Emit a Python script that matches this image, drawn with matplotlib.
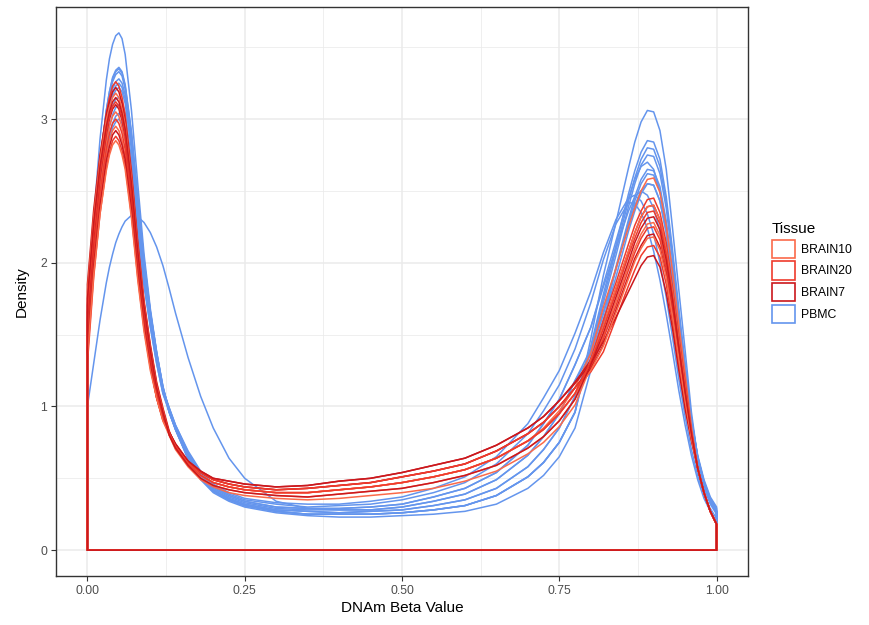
import matplotlib
matplotlib.use('Agg')
import matplotlib.pyplot as plt
from matplotlib.patches import Patch

# -------------------------------
# Data
# -------------------------------
beta = [0.00, 0.01, 0.02, 0.03, 0.035, 0.04, 0.045, 0.05, 0.055, 0.06, 0.07, 0.08, 0.09,
        0.10, 0.11, 0.12, 0.13, 0.14, 0.16, 0.18, 0.20, 0.225, 0.25, 0.30, 0.35, 0.40,
        0.45, 0.50, 0.55, 0.60, 0.65, 0.70, 0.725, 0.75, 0.775, 0.80, 0.82, 0.84, 0.86,
        0.87, 0.88, 0.89, 0.90, 0.91, 0.92, 0.93, 0.94, 0.95, 0.96, 0.97, 0.98, 0.99, 1.00]

pbmc = [
    [1.55, 2.31, 2.86, 3.27, 3.42, 3.52, 3.58, 3.60, 3.56, 3.45, 3.06, 2.55, 2.06, 1.68, 1.38, 1.13,
     0.96, 0.84, 0.64, 0.50, 0.41, 0.35, 0.31, 0.27, 0.25, 0.25, 0.25, 0.26, 0.28, 0.31, 0.38, 0.51, 0.61, 0.75, 0.96,
     1.42, 1.78, 2.12, 2.48, 2.64, 2.77, 2.85, 2.84, 2.72, 2.46, 2.09, 1.68, 1.30, 0.92, 0.64, 0.47, 0.35, 0.27],
    [1.50, 2.19, 2.69, 3.06, 3.19, 3.29, 3.34, 3.36, 3.33, 3.24, 2.91, 2.45, 2.02, 1.66, 1.38, 1.14,
     0.96, 0.84, 0.64, 0.50, 0.41, 0.35, 0.31, 0.27, 0.25, 0.25, 0.25, 0.26, 0.28, 0.31, 0.38, 0.51, 0.61, 0.75, 0.96,
     1.47, 1.91, 2.28, 2.66, 2.84, 2.98, 3.06, 3.05, 2.92, 2.65, 2.24, 1.81, 1.39, 0.96, 0.64, 0.47, 0.35, 0.28],
    [1.60, 2.24, 2.71, 3.05, 3.17, 3.26, 3.31, 3.33, 3.30, 3.21, 2.88, 2.43, 2.00, 1.65, 1.37, 1.13,
     0.98, 0.86, 0.67, 0.53, 0.44, 0.38, 0.34, 0.30, 0.29, 0.29, 0.30, 0.32, 0.37, 0.43, 0.54, 0.73, 0.88, 1.05, 1.29,
     1.55, 1.85, 2.15, 2.45, 2.58, 2.67, 2.70, 2.65, 2.50, 2.24, 1.90, 1.52, 1.16, 0.86, 0.62, 0.45, 0.33, 0.26],
    [1.45, 2.13, 2.62, 2.99, 3.12, 3.21, 3.26, 3.28, 3.25, 3.17, 2.84, 2.39, 1.97, 1.62, 1.34, 1.12,
     0.97, 0.85, 0.65, 0.51, 0.42, 0.36, 0.32, 0.28, 0.27, 0.26, 0.27, 0.28, 0.31, 0.35, 0.43, 0.58, 0.70, 0.85, 1.07,
     1.34, 1.60, 1.90, 2.22, 2.36, 2.48, 2.55, 2.54, 2.43, 2.21, 1.87, 1.51, 1.16, 0.87, 0.64, 0.47, 0.35, 0.27],
    [1.70, 2.26, 2.67, 2.98, 3.08, 3.16, 3.20, 3.22, 3.19, 3.11, 2.79, 2.35, 1.93, 1.60, 1.34, 1.12,
     0.99, 0.87, 0.69, 0.55, 0.46, 0.40, 0.36, 0.33, 0.32, 0.32, 0.34, 0.37, 0.43, 0.51, 0.65, 0.88, 1.06, 1.25, 1.51,
     1.80, 2.07, 2.30, 2.45, 2.47, 2.43, 2.34, 2.20, 2.00, 1.76, 1.48, 1.19, 0.93, 0.70, 0.52, 0.38, 0.29, 0.22],
    [1.40, 2.03, 2.49, 2.83, 2.95, 3.03, 3.08, 3.10, 3.07, 2.99, 2.68, 2.26, 1.86, 1.58, 1.32, 1.11,
     0.98, 0.86, 0.66, 0.52, 0.43, 0.37, 0.33, 0.29, 0.28, 0.28, 0.28, 0.30, 0.34, 0.39, 0.49, 0.66, 0.79, 0.95, 1.18,
     1.36, 1.64, 1.95, 2.28, 2.43, 2.55, 2.62, 2.61, 2.50, 2.27, 1.92, 1.55, 1.19, 0.89, 0.64, 0.47, 0.35, 0.27],
    [1.35, 1.98, 2.43, 2.77, 2.89, 2.97, 3.02, 3.04, 3.01, 2.93, 2.63, 2.22, 1.86, 1.56, 1.30, 1.09,
     0.96, 0.84, 0.64, 0.50, 0.41, 0.35, 0.31, 0.27, 0.25, 0.25, 0.25, 0.26, 0.28, 0.31, 0.38, 0.51, 0.61, 0.75, 0.96,
     1.40, 1.75, 2.09, 2.43, 2.59, 2.72, 2.80, 2.79, 2.67, 2.42, 2.05, 1.65, 1.28, 0.92, 0.65, 0.48, 0.36, 0.29],
    [1.65, 2.21, 2.61, 2.91, 3.02, 3.09, 3.14, 3.15, 3.12, 3.04, 2.72, 2.30, 1.89, 1.59, 1.33, 1.11,
     0.99, 0.87, 0.68, 0.54, 0.45, 0.39, 0.35, 0.32, 0.30, 0.31, 0.32, 0.35, 0.40, 0.47, 0.60, 0.81, 0.97, 1.15, 1.40,
     1.72, 2.02, 2.27, 2.42, 2.41, 2.35, 2.24, 2.08, 1.88, 1.64, 1.38, 1.11, 0.87, 0.66, 0.49, 0.36, 0.27, 0.20],
    [1.50, 2.15, 2.62, 2.97, 3.09, 3.18, 3.23, 3.25, 3.22, 3.14, 2.81, 2.37, 1.95, 1.61, 1.33, 1.11,
     0.96, 0.84, 0.63, 0.49, 0.40, 0.34, 0.30, 0.26, 0.24, 0.23, 0.23, 0.24, 0.25, 0.27, 0.32, 0.43, 0.52, 0.65, 0.85,
     1.25, 1.58, 1.97, 2.30, 2.46, 2.58, 2.65, 2.64, 2.53, 2.29, 1.94, 1.57, 1.21, 0.89, 0.66, 0.49, 0.37, 0.30],
    [1.00, 1.30, 1.60, 1.86, 1.97, 2.06, 2.14, 2.20, 2.25, 2.29, 2.33, 2.32, 2.28, 2.21, 2.11, 1.98,
     1.82, 1.65, 1.34, 1.07, 0.85, 0.64, 0.50, 0.34, 0.29, 0.28, 0.28, 0.30, 0.34, 0.39, 0.49, 0.66, 0.79, 0.95, 1.18,
     1.40, 1.66, 1.96, 2.26, 2.40, 2.50, 2.55, 2.54, 2.43, 2.21, 1.87, 1.51, 1.16, 0.87, 0.64, 0.47, 0.35, 0.27],
    [1.55, 2.22, 2.70, 3.06, 3.19, 3.28, 3.33, 3.35, 3.32, 3.23, 2.90, 2.45, 2.01, 1.66, 1.37, 1.14,
     0.97, 0.85, 0.65, 0.51, 0.42, 0.36, 0.32, 0.28, 0.27, 0.26, 0.27, 0.28, 0.31, 0.35, 0.43, 0.58, 0.70, 0.85, 1.07,
     1.39, 1.72, 2.05, 2.39, 2.55, 2.68, 2.75, 2.74, 2.62, 2.38, 2.02, 1.62, 1.25, 0.91, 0.65, 0.47, 0.35, 0.27],
    [1.45, 2.02, 2.44, 2.75, 2.86, 2.94, 2.98, 3.00, 2.97, 2.90, 2.60, 2.19, 1.84, 1.55, 1.30, 1.09,
     0.98, 0.86, 0.67, 0.53, 0.44, 0.38, 0.34, 0.30, 0.29, 0.29, 0.30, 0.32, 0.37, 0.43, 0.54, 0.73, 0.88, 1.05, 1.29,
     1.55, 1.83, 2.10, 2.36, 2.46, 2.50, 2.47, 2.38, 2.22, 1.99, 1.70, 1.38, 1.07, 0.80, 0.59, 0.43, 0.32, 0.25],
]

brain10 = [
    [1.55, 2.12, 2.54, 2.84, 2.95, 3.02, 3.05, 3.02, 2.94, 2.84, 2.47, 2.01, 1.63, 1.34, 1.10, 0.93,
     0.81, 0.72, 0.60, 0.52, 0.47, 0.44, 0.42, 0.40, 0.40, 0.42, 0.44, 0.47, 0.51, 0.56, 0.64, 0.76, 0.85, 0.97, 1.13,
     1.37, 1.69, 1.96, 2.25, 2.38, 2.50, 2.58, 2.59, 2.49, 2.26, 1.94, 1.57, 1.23, 0.86, 0.57, 0.40, 0.27, 0.18],
    [1.45, 2.02, 2.44, 2.74, 2.85, 2.92, 2.95, 2.92, 2.85, 2.74, 2.39, 1.95, 1.58, 1.30, 1.06, 0.90,
     0.80, 0.70, 0.58, 0.49, 0.44, 0.40, 0.38, 0.36, 0.35, 0.36, 0.38, 0.40, 0.43, 0.48, 0.55, 0.67, 0.75, 0.86, 1.01,
     1.28, 1.49, 1.73, 1.98, 2.10, 2.20, 2.27, 2.28, 2.19, 1.99, 1.71, 1.39, 1.08, 0.80, 0.57, 0.40, 0.27, 0.18],
    [1.80, 2.32, 2.71, 2.99, 3.08, 3.15, 3.18, 3.15, 3.07, 2.96, 2.58, 2.10, 1.70, 1.40, 1.14, 0.97,
     0.80, 0.71, 0.59, 0.50, 0.45, 0.42, 0.40, 0.38, 0.37, 0.39, 0.41, 0.43, 0.47, 0.52, 0.59, 0.71, 0.79, 0.90, 1.05,
     1.32, 1.56, 1.82, 2.08, 2.21, 2.32, 2.39, 2.40, 2.30, 2.09, 1.80, 1.46, 1.14, 0.82, 0.57, 0.40, 0.27, 0.18],
    [1.35, 1.92, 2.34, 2.64, 2.75, 2.82, 2.85, 2.82, 2.75, 2.65, 2.31, 1.88, 1.52, 1.25, 1.06, 0.90,
     0.81, 0.72, 0.60, 0.52, 0.47, 0.44, 0.42, 0.40, 0.40, 0.42, 0.44, 0.47, 0.51, 0.56, 0.64, 0.76, 0.84, 0.95, 1.09,
     1.25, 1.42, 1.65, 1.89, 2.01, 2.10, 2.17, 2.18, 2.09, 1.90, 1.63, 1.33, 1.04, 0.78, 0.57, 0.40, 0.27, 0.18],
]

brain20 = [
    [1.70, 2.29, 2.73, 3.04, 3.15, 3.23, 3.26, 3.23, 3.15, 3.03, 2.64, 2.15, 1.74, 1.43, 1.17, 0.99,
     0.83, 0.72, 0.60, 0.52, 0.47, 0.44, 0.42, 0.40, 0.40, 0.42, 0.44, 0.47, 0.51, 0.56, 0.64, 0.76, 0.84, 0.95, 1.09,
     1.33, 1.60, 1.86, 2.13, 2.26, 2.36, 2.44, 2.45, 2.35, 2.14, 1.83, 1.49, 1.17, 0.83, 0.57, 0.40, 0.27, 0.18],
    [1.50, 2.07, 2.49, 2.79, 2.90, 2.97, 3.00, 2.97, 2.90, 2.79, 2.43, 1.98, 1.61, 1.32, 1.08, 0.92,
     0.82, 0.73, 0.61, 0.54, 0.49, 0.46, 0.44, 0.42, 0.43, 0.45, 0.47, 0.51, 0.55, 0.60, 0.69, 0.81, 0.89, 1.00, 1.13,
     1.27, 1.47, 1.70, 1.95, 2.07, 2.17, 2.24, 2.25, 2.16, 1.96, 1.69, 1.37, 1.07, 0.80, 0.57, 0.40, 0.27, 0.18],
    [1.30, 1.90, 2.34, 2.66, 2.77, 2.85, 2.88, 2.85, 2.78, 2.68, 2.33, 1.90, 1.54, 1.27, 1.06, 0.91,
     0.82, 0.73, 0.61, 0.54, 0.49, 0.46, 0.44, 0.42, 0.43, 0.45, 0.47, 0.51, 0.55, 0.60, 0.69, 0.81, 0.89, 1.00, 1.13,
     1.24, 1.38, 1.61, 1.84, 1.95, 2.05, 2.11, 2.12, 2.04, 1.85, 1.59, 1.29, 1.01, 0.77, 0.57, 0.40, 0.27, 0.18],
    [1.65, 2.21, 2.62, 2.91, 3.02, 3.09, 3.12, 3.09, 3.01, 2.90, 2.53, 2.06, 1.67, 1.37, 1.12, 0.95,
     0.81, 0.72, 0.60, 0.52, 0.47, 0.44, 0.42, 0.40, 0.40, 0.42, 0.44, 0.47, 0.51, 0.56, 0.64, 0.76, 0.84, 0.95, 1.09,
     1.31, 1.54, 1.79, 2.05, 2.17, 2.28, 2.35, 2.36, 2.27, 2.06, 1.77, 1.43, 1.12, 0.82, 0.57, 0.40, 0.27, 0.18],
]

brain7 = [
    [1.85, 2.37, 2.75, 3.03, 3.12, 3.19, 3.22, 3.19, 3.11, 2.99, 2.61, 2.13, 1.72, 1.42, 1.16, 0.98,
     0.82, 0.74, 0.62, 0.55, 0.50, 0.48, 0.46, 0.44, 0.45, 0.48, 0.50, 0.54, 0.59, 0.64, 0.73, 0.85, 0.93, 1.04, 1.17,
     1.32, 1.56, 1.82, 2.08, 2.21, 2.32, 2.39, 2.40, 2.30, 2.09, 1.80, 1.46, 1.14, 0.82, 0.57, 0.40, 0.27, 0.18],
    [1.60, 2.17, 2.59, 2.89, 3.00, 3.07, 3.10, 3.07, 2.99, 2.88, 2.51, 2.05, 1.66, 1.36, 1.12, 0.95,
     0.82, 0.73, 0.61, 0.54, 0.49, 0.46, 0.44, 0.42, 0.43, 0.45, 0.47, 0.51, 0.55, 0.60, 0.69, 0.81, 0.89, 1.00, 1.13,
     1.26, 1.43, 1.67, 1.91, 2.03, 2.12, 2.19, 2.20, 2.11, 1.92, 1.65, 1.34, 1.05, 0.79, 0.57, 0.40, 0.27, 0.18],
    [1.40, 1.98, 2.40, 2.71, 2.81, 2.89, 2.92, 2.89, 2.82, 2.72, 2.37, 1.93, 1.56, 1.28, 1.06, 0.91,
     0.82, 0.74, 0.62, 0.55, 0.50, 0.48, 0.46, 0.44, 0.45, 0.48, 0.50, 0.54, 0.59, 0.64, 0.73, 0.85, 0.93, 1.04, 1.16,
     1.30, 1.45, 1.62, 1.80, 1.89, 1.98, 2.04, 2.05, 1.97, 1.79, 1.54, 1.25, 0.98, 0.76, 0.57, 0.40, 0.27, 0.18],
    [1.75, 2.28, 2.67, 2.95, 3.05, 3.12, 3.15, 3.12, 3.04, 2.93, 2.55, 2.08, 1.69, 1.39, 1.13, 0.96,
     0.80, 0.71, 0.59, 0.50, 0.45, 0.42, 0.40, 0.38, 0.37, 0.39, 0.41, 0.43, 0.47, 0.52, 0.59, 0.71, 0.79, 0.90, 1.05,
     1.29, 1.51, 1.76, 2.01, 2.14, 2.24, 2.31, 2.32, 2.23, 2.02, 1.74, 1.41, 1.10, 0.81, 0.57, 0.40, 0.27, 0.18],
]

tissues = ['BRAIN10', 'BRAIN20', 'BRAIN7', 'PBMC']
colors = {'BRAIN10': '#FB6A4A', 'BRAIN20': '#EF3B2C', 'BRAIN7': '#CB181D', 'PBMC': '#6495ED'}

plt.rcParams['font.family'] = ['Liberation Sans', 'DejaVu Sans']


def draw_density(ax, ys, color):
    # geom_density outline: closed polygon down to the baseline
    ax.fill(beta + [beta[-1], beta[0]], ys + [0, 0], facecolor='none',
            edgecolor=color, linewidth=1.1, joinstyle='round')


fig = plt.figure(figsize=(8.69, 6.25), dpi=100)
ax = fig.add_axes([0.0644, 0.0784, 0.7964, 0.9104])

for ys in pbmc:
    draw_density(ax, ys, colors['PBMC'])
for a, b, c in zip(brain10, brain20, brain7):
    draw_density(ax, a, colors['BRAIN10'])
    draw_density(ax, b, colors['BRAIN20'])
    draw_density(ax, c, colors['BRAIN7'])

ax.margins(x=0.05, y=0.05)

# -------------------------------
# theme_bw look
# -------------------------------
ax.set_xticks([0, 0.25, 0.5, 0.75, 1.0])
ax.set_xticklabels(['0.00', '0.25', '0.50', '0.75', '1.00'])
ax.set_xticks([0.125, 0.375, 0.625, 0.875], minor=True)
ax.set_yticks([0, 1, 2, 3])
ax.set_yticks([0.5, 1.5, 2.5, 3.5], minor=True)
ax.grid(which='major', color='#EBEBEB', linewidth=1.1)
ax.grid(which='minor', color='#EBEBEB', linewidth=0.55)
ax.set_axisbelow(True)
ax.tick_params(which='major', length=3.5, width=0.8, color='#333333',
               labelsize=8.8, labelcolor='#4D4D4D', pad=3)
ax.tick_params(which='minor', length=0)
for s in ax.spines.values():
    s.set_color('#333333')
    s.set_linewidth(1.0)

ax.set_xlabel('DNAm Beta Value', fontsize=11, labelpad=3)
ax.set_ylabel('Density', fontsize=11, labelpad=8)

handles = [Patch(facecolor='white', edgecolor=colors[t], linewidth=1.2, label=t) for t in tissues]
leg = ax.legend(handles=handles, title='Tissue', loc='upper left',
                bbox_to_anchor=(772 / 869, 1 - 222 / 625), bbox_transform=fig.transFigure,
                frameon=False, fontsize=8.8, title_fontsize=11, borderpad=0,
                borderaxespad=0, handlelength=1.9, handleheight=1.9,
                labelspacing=0.3, handletextpad=0.5)
leg._legend_box.align = 'left'

fig.savefig('out.png', dpi=100)
